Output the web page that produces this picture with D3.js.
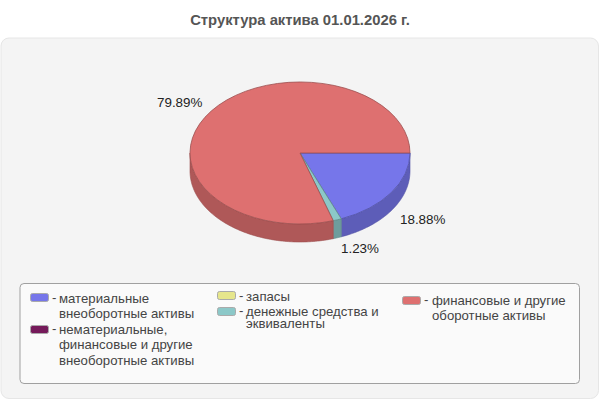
<!DOCTYPE html>
<html><head><meta charset="utf-8">
<script src="https://cdn.jsdelivr.net/npm/d3@7/dist/d3.min.js"></script>
<style>html,body{margin:0;padding:0;background:#fff}svg{display:block}text{font-family:"Liberation Sans",Arial,sans-serif}</style>
</head><body><svg id="c" width="600" height="400"></svg>
<script>
const title = "Структура актива 01.01.2026 г.";
const categories = ["материальные внеоборотные активы","нематериальные, финансовые и другие внеоборотные активы","запасы","денежные средства и эквиваленты","финансовые и другие оборотные активы"];
const values = [18.88, 0, 0, 1.23, 79.89];
const colors = ["#7676ea","#751a5a","#e6e68c","#8cc8c8","#de7070"];
const sideColors = ["#5d5db8","#5c1447","#b5b56e","#6e9d9d","#af5858"];
const edgeColors = ["#5252a4","#52123f","#a0a062","#628c8c","#9c4e4e"];
const legendLines = [["материальные","внеоборотные активы"],["нематериальные,","финансовые и другие","внеоборотные активы"],["запасы"],["денежные средства и","эквиваленты"],["финансовые и другие","оборотные активы"]];
const legendPos = [[30,293,298,15.5],[30,325,329,15.5],[217,291,296,12],[217,307,311,12],[402,296,300,15.5]];

const svg = d3.select("#c");
svg.append("text").attr("x",300).attr("y",25).attr("text-anchor","middle").attr("font-size",14.8).attr("font-weight","bold").attr("fill","#555").text(title);
svg.append("rect").attr("x",1).attr("y",38).attr("width",597.5).attr("height",360.5).attr("rx",8).attr("fill","#f4f4f4").attr("stroke","#e6e6e6");

const cx=300, cy=153, rx=110, ry=71, depth=18;
const pieGen = d3.pie().sort(null).value(d=>d).startAngle(Math.PI/2).endAngle(Math.PI*2.5);
const arcs = pieGen(values);
const sx = d3.scaleLinear().domain([-1,1]).range([cx-rx,cx+rx]);
const sy = d3.scaleLinear().domain([-1,1]).range([cy-ry,cy+ry]);
const pt = (a,dy)=>[sx(Math.sin(a)), sy(-Math.cos(a))+dy];

arcs.forEach((d,i)=>{
  const a0=Math.max(d.startAngle,Math.PI/2), a1=Math.min(d.endAngle,Math.PI*1.5);
  if(a1<=a0) return;
  const n=Math.max(2,Math.ceil((a1-a0)*60));
  const as=d3.range(n+1).map(k=>a0+(a1-a0)*k/n);
  const poly=as.map(a=>pt(a,0)).concat(as.slice().reverse().map(a=>pt(a,depth)));
  svg.append("path").attr("d",d3.line()(poly)+"Z").attr("fill",sideColors[i]).attr("stroke",edgeColors[i]).attr("stroke-width",0.6);
});
const arcGen=d3.arc().innerRadius(0).outerRadius(1);
arcs.forEach((d,i)=>{
  if(d.endAngle<=d.startAngle) return;
  svg.append("path").attr("transform",`translate(${cx},${cy}) scale(${rx},${ry})`)
    .attr("d",arcGen(d)).attr("fill",colors[i]).attr("stroke",edgeColors[i]).attr("stroke-width",0.8).attr("vector-effect","non-scaling-stroke");
});
const lab=svg.append("g").attr("font-size",13.4).attr("fill","#222");
const labelPos={0:[400,224],3:[341,253],4:[157,107]};
[0,3,4].forEach(i=>lab.append("text").attr("x",labelPos[i][0]).attr("y",labelPos[i][1]).text(values[i].toFixed(2)+"%"));

svg.append("rect").attr("x",20).attr("y",283.5).attr("width",559.5).attr("height",100).attr("rx",4).attr("fill","#fafafa").attr("stroke","#a0a0a0");
legendLines.forEach((lines,i)=>{
  const [x,sw,ty,lh]=legendPos[i];
  const tx = x + 29 + (i===4?1:0);
  svg.append("rect").attr("x",x+.5).attr("y",sw+.5).attr("width",18).attr("height",8).attr("rx",2).attr("fill",colors[i]).attr("stroke","#aaa");
  svg.append("text").attr("x",x+22).attr("y",ty+4).attr("font-size",13.2).attr("fill","#444").text("-");
  lines.forEach((l,k)=>svg.append("text").attr("x",tx).attr("y",ty+k*lh+4.5).attr("font-size",13.2).attr("fill","#444").text(l));
});
</script></body></html>
